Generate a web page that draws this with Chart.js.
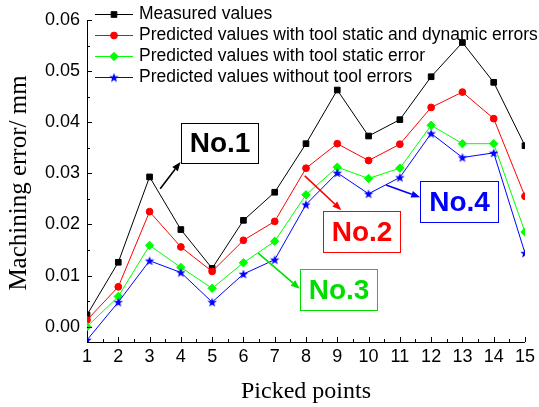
<!DOCTYPE html>
<html><head><meta charset="utf-8">
<script src="https://cdn.jsdelivr.net/npm/chart.js@4.4.0/dist/chart.umd.min.js"></script>
<style>html,body{margin:0;padding:0;background:#fff}#wrap{width:539px;height:407px}</style>
</head><body><div id="wrap"><canvas id="c" width="539" height="407"></canvas></div>
<script>
const pickedPoints = [1,2,3,4,5,6,7,8,9,10,11,12,13,14,15];
const measured = [0.0023,0.0126,0.0293,0.0190,0.0114,0.0208,0.0263,0.0358,0.0463,0.0373,0.0405,0.0489,0.0556,0.0478,0.0354];
const predStaticDynamic = [0.0013,0.0078,0.0225,0.0156,0.0108,0.0169,0.0206,0.0310,0.0358,0.0325,0.0357,0.0429,0.0459,0.0407,0.0255];
const predStatic = [0.0000,0.0059,0.0159,0.0116,0.0075,0.0125,0.0167,0.0258,0.0312,0.0290,0.0310,0.0394,0.0358,0.0358,0.0185];
const predNoError = [-0.0026,0.0048,0.0129,0.0106,0.0048,0.0103,0.0131,0.0239,0.0301,0.0260,0.0292,0.0378,0.0331,0.0340,0.0144];
const seriesNames = ['Measured values','Predicted values with tool static and dynamic errors','Predicted values with tool static error','Predicted values without tool errors'];
const yTickValues = [0,0.01,0.02,0.03,0.04,0.05,0.06];
const xTitle = 'Picked points';
const yTitle = 'Machining error/ mm';
const noteLabels = ['No.1','No.2','No.3','No.4'];
const noteColors = ['#000000','#ff0000','#00dd00','#0000ff'];
// annotation boxes/arrows in data coordinates [x1,y1,x2,y2], arrow [fromX,fromY,toX,toY]
const noteBoxes = [[4.01,0.0399,6.48,0.0320],[8.54,0.0226,11.02,0.0147],[7.80,0.0113,10.26,0.0033],[11.65,0.0285,14.13,0.0205]];
const noteArrows = [[3.34,0.0270,3.99,0.0322],[7.96,0.0295,9.13,0.0228],[6.47,0.0144,7.80,0.0074],[10.56,0.0277,11.65,0.0253]];

function makeStar(color, R){
  const s = Math.ceil(R*2)+2;
  const c = document.createElement('canvas'); c.width = s; c.height = s;
  const g = c.getContext('2d'); g.fillStyle = color; g.beginPath();
  for(let i=0;i<10;i++){const r=i%2?R*0.42:R;const a=-Math.PI/2+i*Math.PI/5;g.lineTo(s/2+r*Math.cos(a),s/2+r*Math.sin(a)+0.4);}
  g.closePath(); g.fill(); return c;
}
const starImg = makeStar('#0000ff', 5);

const colors = ['#000000','#ff0000','#00ff00','#0000ff'];
const styles = ['rect','circle','rectRot',starImg];
const radii = [4,3.4,4.2,5];
const values = [measured,predStaticDynamic,predStatic,predNoError];

const datasets = values.map((v,i)=>({
  label: seriesNames[i],
  data: pickedPoints.map((x,j)=>({x:x,y:v[j]})),
  borderColor: colors[i], backgroundColor: colors[i],
  borderWidth: 1, pointStyle: styles[i], pointRadius: radii[i],
  pointBorderWidth: 1, pointBackgroundColor: colors[i], pointBorderColor: colors[i],
  tension: 0, order: 4-i
}));

const SANS = '"Liberation Sans", Arial, sans-serif';
const SERIF = '"Liberation Serif", "Times New Roman", serif';

const decor = {
  id:'decor',
  afterDraw(chart){
    const ctx = chart.ctx, xs = chart.scales.x, ys = chart.scales.y;
    const ca = chart.chartArea;
    ctx.save();
    ctx.strokeStyle = '#000'; ctx.lineWidth = 1;
    // inward ticks
    ctx.beginPath();
    for(let v=0; v<=0.06+1e-9; v+=0.005){
      const y = Math.round(ys.getPixelForValue(v))+0.5;
      const major = Math.abs(v/0.01 - Math.round(v/0.01))<1e-6;
      ctx.moveTo(ca.left, y); ctx.lineTo(ca.left + (major?5:3), y);
    }
    for(let v=1; v<=15+1e-9; v+=0.5){
      const x = Math.round(xs.getPixelForValue(v))+0.5;
      const major = Math.abs(v-Math.round(v))<1e-6;
      ctx.moveTo(x, ca.bottom); ctx.lineTo(x, ca.bottom - (major?5:3));
    }
    ctx.stroke();
    // axis titles
    ctx.fillStyle = '#000';
    ctx.textAlign = 'center'; ctx.textBaseline = 'alphabetic';
    ctx.font = '24px ' + SERIF;
    ctx.fillText(xTitle, 306, 398);
    ctx.save(); ctx.translate(26, 183); ctx.rotate(-Math.PI/2);
    ctx.font = '25px ' + SERIF;
    ctx.fillText(yTitle, 0, 0); ctx.restore();
    // legend
    ctx.font = '17.5px ' + SANS; ctx.textAlign='left'; ctx.textBaseline='middle';
    seriesNames.forEach((n,i)=>{
      const y = 13.5 + i*21;
      ctx.strokeStyle = colors[i]; ctx.fillStyle = colors[i]; ctx.lineWidth = 1;
      ctx.beginPath(); ctx.moveTo(95, Math.round(y)+0.5); ctx.lineTo(133, Math.round(y)+0.5); ctx.stroke();
      Chart.helpers.drawPoint(ctx, {pointStyle: styles[i], radius: radii[i], borderWidth:1, rotation:0}, 114, Math.round(y)+0.5);
      ctx.fillStyle = '#000';
      ctx.fillText(n, 139, y+1);
    });
    // annotations
    noteLabels.forEach((lab,i)=>{
      const c = noteColors[i];
      const b = noteBoxes[i], a = noteArrows[i];
      const x1 = Math.round(xs.getPixelForValue(b[0]))+0.5, y1 = Math.round(ys.getPixelForValue(b[1]))+0.5;
      const x2 = Math.round(xs.getPixelForValue(b[2]))+0.5, y2 = Math.round(ys.getPixelForValue(b[3]))+0.5;
      ctx.fillStyle = '#fff'; ctx.fillRect(x1,y1,x2-x1,y2-y1);
      ctx.strokeStyle = c; ctx.lineWidth = 1; ctx.strokeRect(x1,y1,x2-x1,y2-y1);
      ctx.fillStyle = c; ctx.font = 'bold 28px ' + SANS; ctx.textAlign='center'; ctx.textBaseline='middle';
      ctx.fillText(lab, (x1+x2)/2, (y1+y2)/2 + 1);
      const fx = xs.getPixelForValue(a[0]), fy = ys.getPixelForValue(a[1]);
      const tx = xs.getPixelForValue(a[2]), ty = ys.getPixelForValue(a[3]);
      const ang = Math.atan2(ty-fy, tx-fx), L = 9, W = 3.5;
      const bx = tx - L*Math.cos(ang), by = ty - L*Math.sin(ang);
      ctx.strokeStyle = c; ctx.lineWidth = 1.6;
      ctx.beginPath(); ctx.moveTo(fx,fy); ctx.lineTo(bx,by); ctx.stroke();
      ctx.fillStyle = c; ctx.beginPath();
      ctx.moveTo(tx,ty);
      ctx.lineTo(bx + W*Math.sin(ang), by - W*Math.cos(ang));
      ctx.lineTo(bx - W*Math.sin(ang), by + W*Math.cos(ang));
      ctx.closePath(); ctx.fill();
    });
    ctx.restore();
  }
};

new Chart(document.getElementById('c'), {
  type: 'line',
  data: { datasets },
  options: {
    responsive: false, animation: false, devicePixelRatio: 1,
    layout: { padding: { left: 0, top: 20, right: 13, bottom: 0 } },
    plugins: { legend: { display: false }, tooltip: { enabled: false } },
    scales: {
      x: {
        type: 'linear', min: 1, max: 15,
        grid: { display: false, drawTicks: false },
        border: { display: true, color: '#000', width: 1 },
        afterBuildTicks: s => { s.ticks = pickedPoints.map(v=>({value:v})); },
        afterFit: s => { s.height = 65; },
        ticks: { color: '#000', font: { family: SANS, size: 18 }, padding: 4, maxRotation: 0, autoSkip: false,
                 callback: v => String(v) }
      },
      y: {
        min: -0.003, max: 0.06,
        grid: { display: false, drawTicks: false },
        border: { display: true, color: '#000', width: 1 },
        afterBuildTicks: s => { s.ticks = yTickValues.map(v=>({value:v})); },
        afterFit: s => { s.width = 87; },
        ticks: { color: '#000', font: { family: SANS, size: 18 }, padding: 7,
                 callback: v => Number(v).toFixed(2) }
      }
    }
  },
  plugins: [decor]
});
</script></body></html>
